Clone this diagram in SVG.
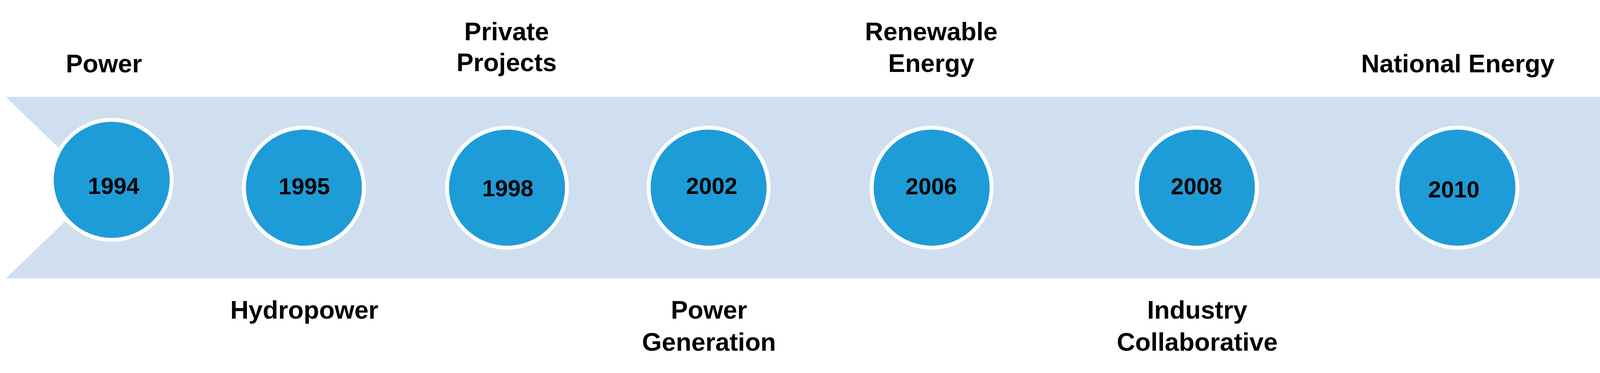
<svg xmlns="http://www.w3.org/2000/svg" width="5763" height="954" viewBox="0 0 5763 954">
<style>
.node circle{fill:#1E9CD8;stroke:#FFFFFF;stroke-width:10}
.yr{font-family:"Liberation Sans",Arial,sans-serif;font-weight:bold;font-size:59px;fill:#000;text-anchor:middle}
.lb{font-family:"Liberation Sans",Arial,sans-serif;font-weight:bold;font-size:65px;fill:#000;text-anchor:middle}
</style>
<rect x="0" y="0" width="5763" height="954" fill="#FFFFFF"/>
<g id="arrow">
<polygon points="15,248 5285,248 5285,17 5749,480 5285,943 5285,712 15,712 256,480" fill="#CFDFEF"/>
</g>
<g id="connectors"></g>
<g id="n1994" class="node"><circle cx="286" cy="460" r="153.5"/><text class="yr" x="291" y="496">1994</text><text class="lb" x="266" y="185">Power</text></g>
<g id="n1995" class="node"><circle cx="778" cy="480" r="153.5"/><text class="yr" x="779" y="497">1995</text><text class="lb" x="779" y="815">Hydropower</text></g>
<g id="n1998" class="node"><circle cx="1298" cy="480" r="153.5"/><text class="yr" x="1300" y="502">1998</text><text class="lb" x="1297" y="103">Private</text><text class="lb" x="1297" y="182">Projects</text></g>
<g id="n2002" class="node"><circle cx="1814" cy="480" r="153.5"/><text class="yr" x="1822" y="496">2002</text><text class="lb" x="1815" y="815">Power</text><text class="lb" x="1815" y="897">Generation</text></g>
<g id="n2006" class="node"><circle cx="2385" cy="480" r="153.5"/><text class="yr" x="2384" y="497">2006</text><text class="lb" x="2384" y="103">Renewable</text><text class="lb" x="2384" y="184">Energy</text></g>
<g id="n2008" class="node"><circle cx="3064" cy="480" r="153.5"/><text class="yr" x="3063" y="497">2008</text><text class="lb" x="3065" y="815">Industry</text><text class="lb" x="3065" y="897">Collaborative</text></g>
<g id="n2010" class="node"><circle cx="3731" cy="480" r="153.5"/><text class="yr" x="3722" y="505">2010</text><text class="lb" x="3732" y="185">National Energy</text></g>
<g id="n2013" class="node"><circle cx="4328" cy="480" r="153.5"/><text class="yr" x="4322" y="511">2013</text><text class="lb" x="4329" y="815">National</text><text class="lb" x="4329" y="897">Power</text></g>
<g id="n2015" class="node"><circle cx="4901" cy="480" r="153.5"/><text class="yr" x="4892" y="504">2015</text><text class="lb" x="4900" y="103">Power</text><text class="lb" x="4900" y="185">Generation</text></g>
</svg>
